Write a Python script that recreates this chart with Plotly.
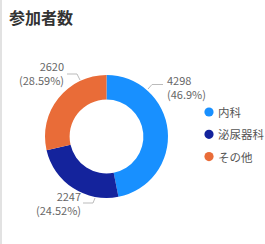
import plotly.graph_objects as go

categories = ["内科", "泌尿器科", "その他"]
values = [4298, 2247, 2620]
colors = ["#1890FF", "#14239C", "#E96C38"]
title_text = "参加者数"

W, H = 265, 244
total = sum(values)

def fmt_pct(v):
    p = round(v / total * 100, 2)
    s = f"{p:.2f}".rstrip("0").rstrip(".")
    return s + "%"

label_texts = [f"{v}<br>({fmt_pct(v)})" for v in values]

# label placement (pixel layout), leader lines, in category order
label_pos = [  # x, y_top, anchor
    (165, 70, "left"),
    (83, 186, "right"),
    (66, 56, "right"),
]
leader_paths = [
    [(148, 89), (152, 84.5), (163, 84.5)],
    [(95, 198), (93, 203), (83, 203)],
    [(80, 80), (77, 74), (67, 74)],
]
# legend layout (pixel): marker x, text x, first row y, row step
LEG_MX, LEG_TX, LEG_Y0, LEG_DY, LEG_R = 209, 216, 112, 22.3, 4.6

def px(x):
    return x / W

def py(y):
    return 1 - y / H

fig = go.Figure()
fig.add_trace(go.Pie(
    labels=categories, values=values, sort=False, direction="clockwise",
    rotation=0, hole=0.6, marker=dict(colors=colors, line=dict(width=0)),
    textinfo="none", hoverinfo="label+value+percent", showlegend=False,
    domain=dict(x=[px(106.5 - 61.5), px(106.5 + 61.5)], y=[py(136.5 + 61.5), py(136.5 - 61.5)]),
))

annotations = [dict(
    text=title_text, x=px(7), y=py(16.5), xref="paper", yref="paper",
    xanchor="left", yanchor="middle", showarrow=False,
    font=dict(size=16, color="#333333", family="Noto Sans CJK JP", weight="bold"),
)]
for t, (x, y, anc) in zip(label_texts, label_pos):
    annotations.append(dict(
        text=t, x=px(x), y=py(y), xref="paper", yref="paper",
        xanchor=anc, yanchor="top", align=anc, showarrow=False,
        font=dict(size=11, color="#666666", family="Noto Sans CJK JP"),
    ))

shapes = [dict(type="rect", xref="paper", yref="paper", x0=0, x1=px(2), y0=0, y1=1,
               fillcolor="#E2E2E2", line=dict(width=0))]
for path in leader_paths:
    d = "M " + " L ".join(f"{px(a)},{py(b)}" for a, b in path)
    shapes.append(dict(type="path", path=d, xref="paper", yref="paper",
                       line=dict(color="#BBBBBB", width=1)))

# legend (circle markers + names)
for i, (c, col) in enumerate(zip(categories, colors)):
    yc = LEG_Y0 + i * LEG_DY
    shapes.append(dict(type="circle", xref="paper", yref="paper",
                       x0=px(LEG_MX - LEG_R), x1=px(LEG_MX + LEG_R),
                       y0=py(yc + LEG_R), y1=py(yc - LEG_R),
                       fillcolor=col, line=dict(width=0)))
    annotations.append(dict(
        text=c, x=px(LEG_TX), y=py(yc), xref="paper", yref="paper",
        xanchor="left", yanchor="middle", showarrow=False,
        font=dict(size=11.5, color="#555555", family="Noto Sans CJK JP"),
    ))

fig.update_layout(
    width=W, height=H, margin=dict(l=0, r=0, t=0, b=0, autoexpand=False),
    paper_bgcolor="white", plot_bgcolor="white",
    annotations=annotations, shapes=shapes,
    showlegend=False,
)
fig.write_html("out.html")
